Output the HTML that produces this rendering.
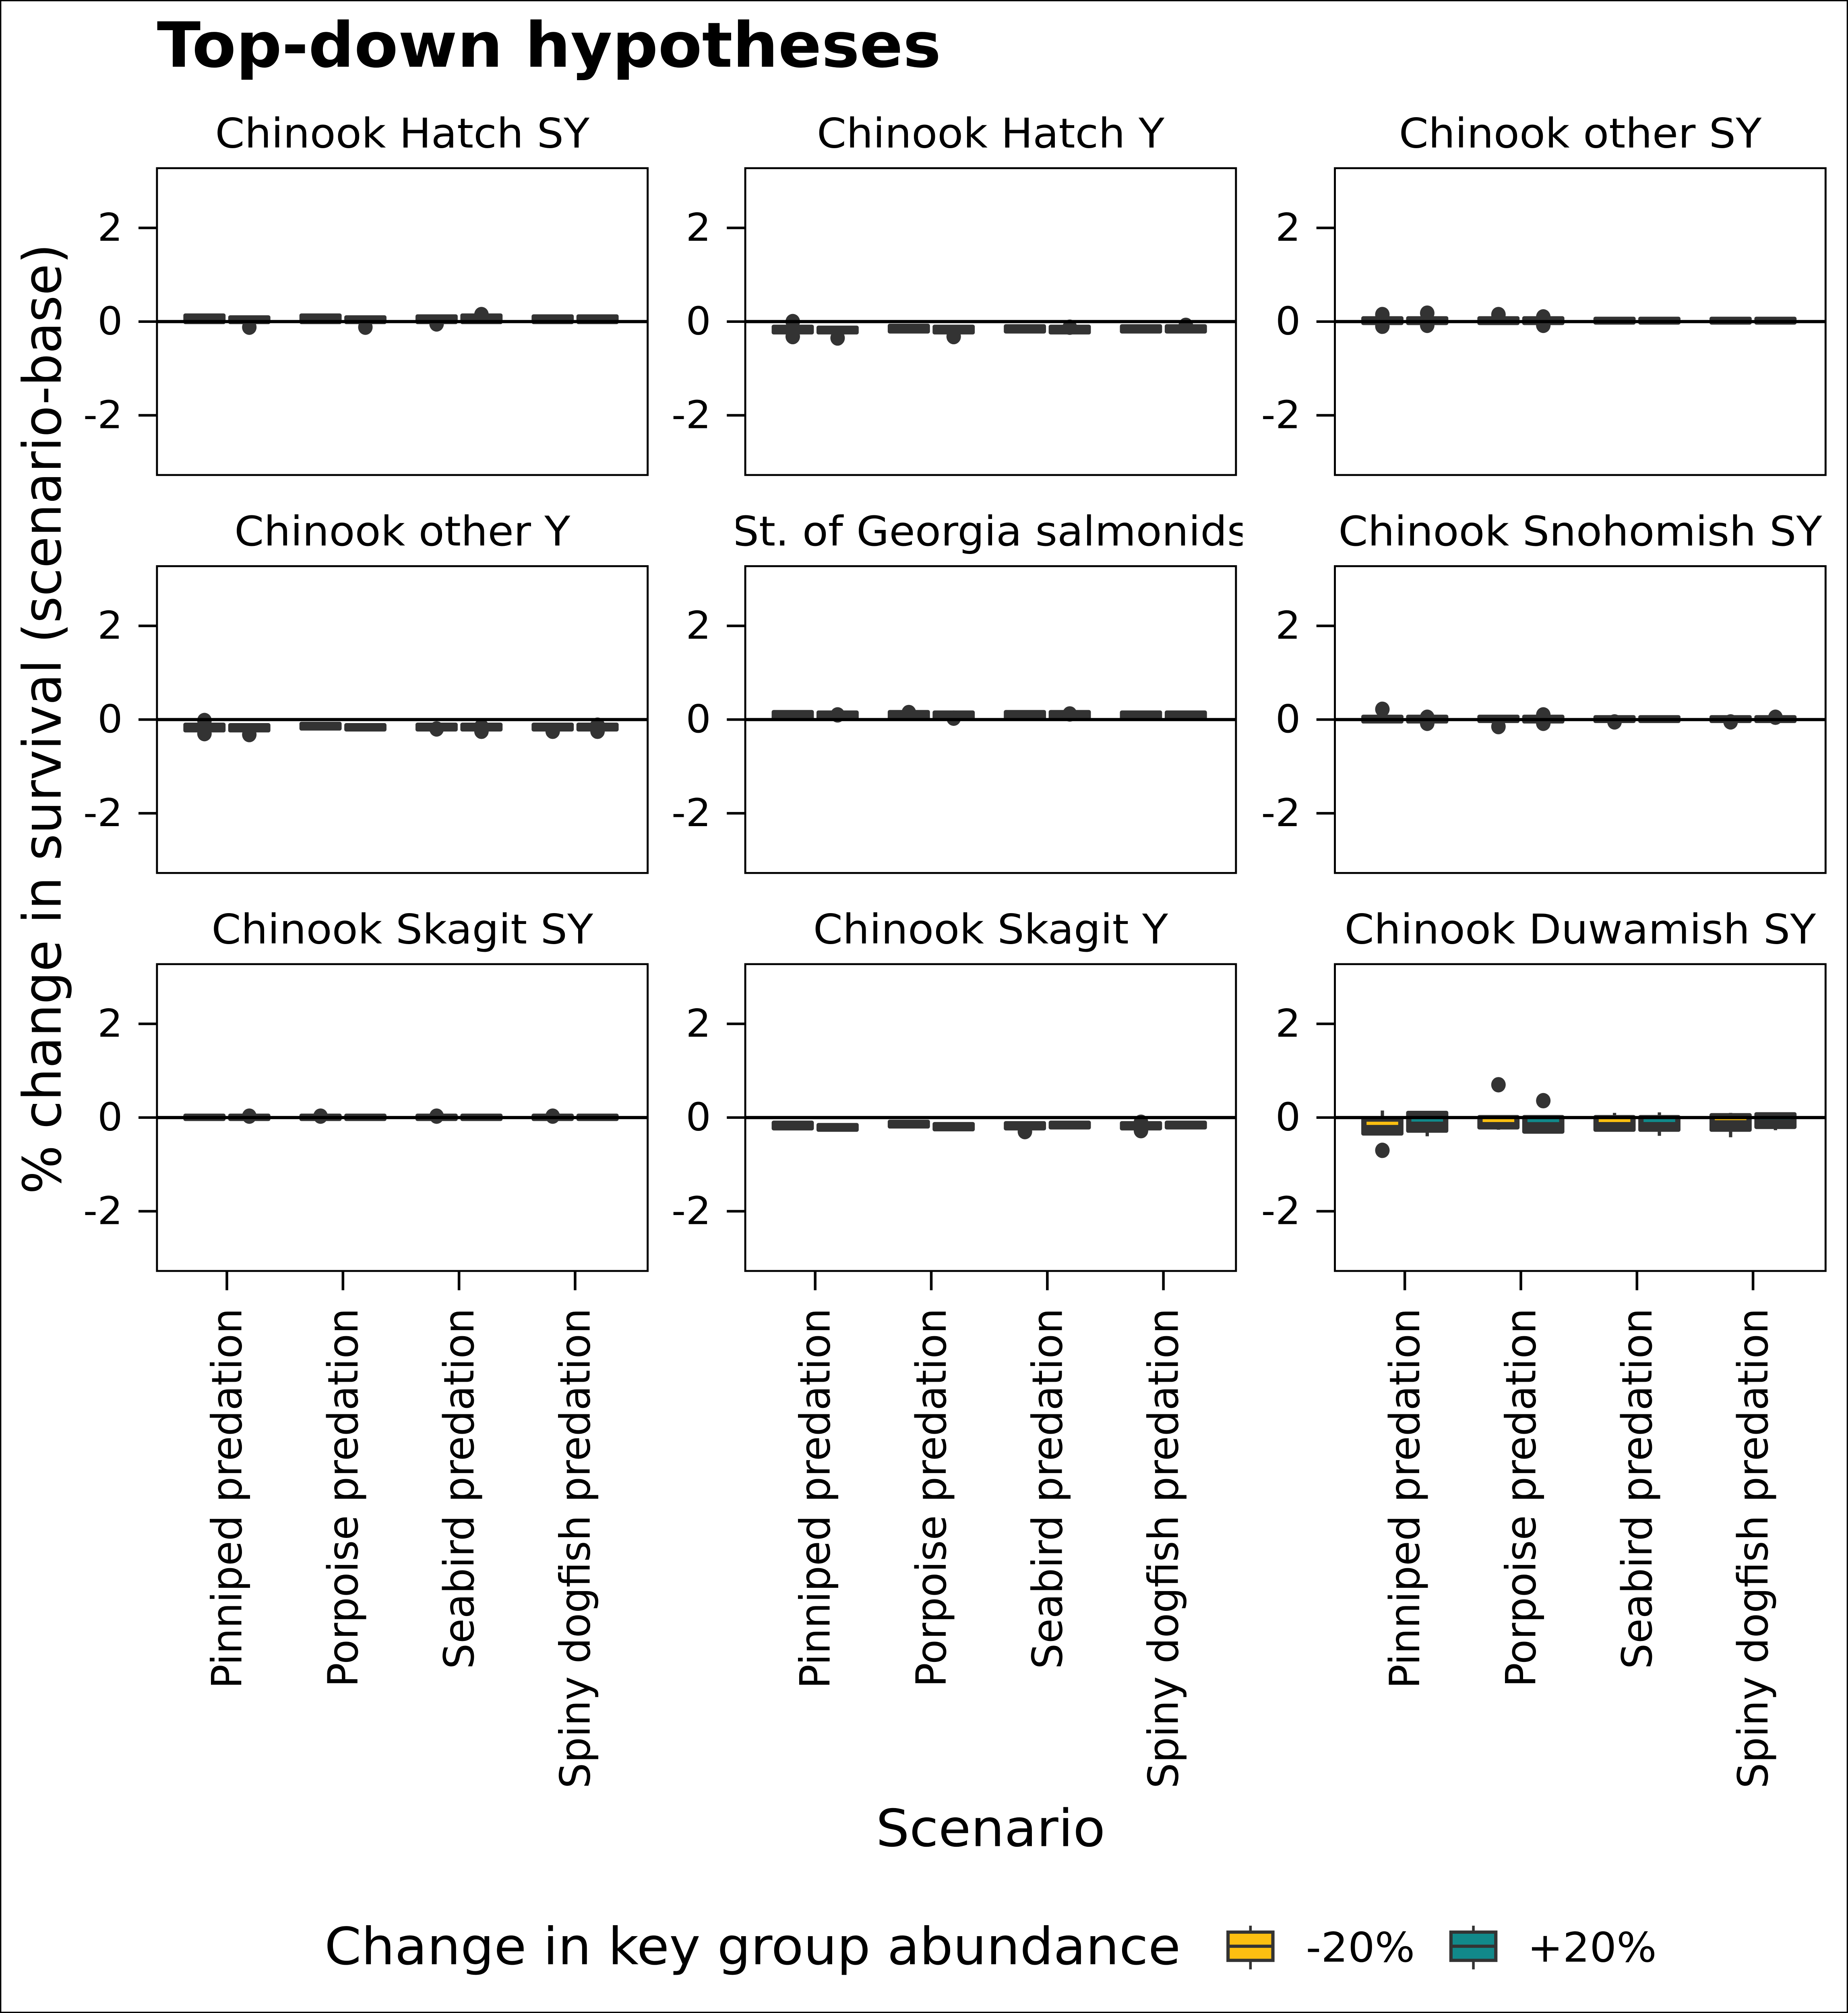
<!DOCTYPE html>
<html><head><meta charset="utf-8"><style>
html,body{margin:0;padding:0;background:#fff;overflow:hidden;width:100vw;height:100vh}
svg{display:block;width:100vw;height:100vh}
text{font-family:"DejaVu Sans","Liberation Sans",sans-serif;fill:#000}
</style></head><body>
<svg id="chart" xmlns="http://www.w3.org/2000/svg" viewBox="0 0 1401 1568" preserveAspectRatio="none">
<rect x="0.5" y="0.5" width="1400" height="1567" fill="#fff" stroke="#000" stroke-width="1"/>
<text x="119" y="52" font-size="48.5" font-weight="bold">Top-down hypotheses</text>
<text transform="translate(46,560) rotate(-90)" text-anchor="middle" font-size="40">% change in survival (scenario-base)</text>
<text x="751" y="1438" text-anchor="middle" font-size="40">Scenario</text>
<g id="panels"></g>
<g>
<text x="246" y="1530" font-size="40">Change in key group abundance</text>
<g>
<line x1="948" y1="1500" x2="948" y2="1534" stroke="#333" stroke-width="2"/>
<rect x="931" y="1505" width="34" height="22" fill="#fcbf11" stroke="#333" stroke-width="2.5"/>
<line x1="931" y1="1516" x2="965" y2="1516" stroke="#333" stroke-width="2.5"/>
<text x="990" y="1528" font-size="32">-20%</text></g>
<g>
<line x1="1117" y1="1500" x2="1117" y2="1534" stroke="#333" stroke-width="2"/>
<rect x="1100" y="1505" width="34" height="22" fill="#11898a" stroke="#333" stroke-width="2.5"/>
<line x1="1100" y1="1516" x2="1134" y2="1516" stroke="#333" stroke-width="2.5"/>
<text x="1158" y="1528" font-size="32">+20%</text></g>
</g>
</svg>
<script>
const titles = ["Chinook Hatch SY","Chinook Hatch Y","Chinook other SY","Chinook other Y","St. of Georgia salmonids","Chinook Snohomish SY","Chinook Skagit SY","Chinook Skagit Y","Chinook Duwamish SY"];
const scenarios = ["Pinniped predation","Porpoise predation","Seabird predation","Spiny dogfish predation"];
const yTicks = [-2,0,2];
const q1 = [
 [0,0,0,0,0,0,0,0],
 [-0.22,-0.22,-0.2,-0.22,-0.2,-0.22,-0.2,-0.2],
 [-0.02,-0.02,-0.02,-0.02,-0.01,-0.01,-0.01,-0.01],
 [-0.22,-0.22,-0.18,-0.2,-0.2,-0.2,-0.2,-0.2],
 [0.05,0.05,0.05,0.05,0.05,0.05,0.05,0.05],
 [-0.03,-0.03,-0.02,-0.03,-0.02,-0.02,-0.02,-0.02],
 [-0.02,-0.02,-0.02,-0.02,-0.02,-0.02,-0.02,-0.02],
 [-0.22,-0.25,-0.18,-0.24,-0.22,-0.2,-0.22,-0.2],
 [-0.33,-0.27,-0.2,-0.29,-0.25,-0.25,-0.25,-0.19]];
const med = [
 [0.06,0.04,0.06,0.04,0.05,0.06,0.05,0.05],
 [-0.17,-0.18,-0.15,-0.17,-0.15,-0.16,-0.15,-0.15],
 [0.02,0.02,0.02,0.02,0.02,0.02,0.02,0.02],
 [-0.17,-0.17,-0.14,-0.17,-0.16,-0.16,-0.16,-0.16],
 [0.1,0.1,0.1,0.1,0.1,0.1,0.1,0.1],
 [0.01,0.01,0.01,0.01,0.01,0.01,0.01,0.01],
 [0,0,0,0,0,0,0,0],
 [-0.17,-0.2,-0.14,-0.19,-0.17,-0.16,-0.17,-0.16],
 [-0.13,-0.06,-0.02,-0.07,-0.02,-0.02,0,-0.01]];
const q3 = [
 [0.12,0.08,0.12,0.08,0.1,0.12,0.1,0.1],
 [-0.12,-0.14,-0.1,-0.12,-0.11,-0.12,-0.11,-0.11],
 [0.06,0.06,0.06,0.06,0.05,0.05,0.05,0.05],
 [-0.12,-0.13,-0.1,-0.13,-0.12,-0.12,-0.12,-0.12],
 [0.15,0.14,0.15,0.14,0.15,0.15,0.14,0.14],
 [0.05,0.05,0.05,0.05,0.04,0.04,0.04,0.04],
 [0.03,0.03,0.03,0.03,0.03,0.03,0.03,0.03],
 [-0.12,-0.17,-0.1,-0.15,-0.13,-0.12,-0.13,-0.12],
 [-0.04,0.09,0,0,0,0,0.04,0.06]];
const wlo = [
 [0,0,0,0,0,0,0,0],
 [-0.22,-0.22,-0.2,-0.22,-0.2,-0.22,-0.2,-0.2],
 [-0.02,-0.02,-0.02,-0.02,-0.01,-0.01,-0.01,-0.01],
 [-0.22,-0.22,-0.18,-0.2,-0.2,-0.2,-0.2,-0.2],
 [0.05,0.05,0.05,0.05,0.05,0.05,0.05,0.05],
 [-0.03,-0.03,-0.02,-0.03,-0.02,-0.02,-0.02,-0.02],
 [-0.02,-0.02,-0.02,-0.02,-0.02,-0.02,-0.02,-0.02],
 [-0.22,-0.25,-0.18,-0.24,-0.22,-0.2,-0.22,-0.2],
 [-0.36,-0.4,-0.26,-0.32,-0.25,-0.39,-0.42,-0.27]];
const whi = [
 [0.12,0.08,0.12,0.08,0.1,0.12,0.1,0.1],
 [-0.12,-0.14,-0.1,-0.12,-0.11,-0.12,-0.11,-0.11],
 [0.06,0.06,0.06,0.06,0.05,0.05,0.05,0.05],
 [-0.12,-0.13,-0.1,-0.13,-0.12,-0.12,-0.12,-0.12],
 [0.15,0.14,0.15,0.14,0.15,0.15,0.14,0.14],
 [0.05,0.05,0.05,0.05,0.04,0.04,0.04,0.04],
 [0.03,0.03,0.03,0.03,0.03,0.03,0.03,0.03],
 [-0.12,-0.17,-0.1,-0.15,-0.13,-0.12,-0.13,-0.12],
 [0.15,0.11,0.02,0.02,0.1,0.11,0.1,0.09]];
const outliers = [
 [[],[-0.12],[],[-0.12],[-0.05],[0.15],[],[]],
 [[0,-0.32],[-0.35],[],[-0.32],[],[-0.12],[],[-0.08]],
 [[0.15,-0.1],[0.18,-0.08],[0.15],[0.1,-0.08],[],[],[],[]],
 [[-0.02,-0.3],[-0.32],[],[],[-0.2],[-0.15,-0.25],[-0.25],[-0.12,-0.25]],
 [[],[0.1],[0.15],[0.03],[],[0.12],[],[]],
 [[0.22],[0.05,-0.08],[-0.15],[0.1,-0.08],[-0.05],[],[-0.05],[0.05]],
 [[],[0.03],[0.03],[],[0.03],[],[0.03],[]],
 [[],[],[],[],[-0.3],[],[-0.1,-0.28],[]],
 [[-0.7],[],[0.7],[0.36],[],[],[],[]]];
const hueColors = ["#fcbf11","#11898a"];

const NS = "http://www.w3.org/2000/svg";
const root = document.getElementById('panels');
const colX = [119,565,1012], rowY = [131,441,751], PW = 372, PH = 239;
function mk(tag, attrs, parent){const e=document.createElementNS(NS,tag);for(const k in attrs)e.setAttribute(k,attrs[k]);parent.appendChild(e);return e;}
for(let p=0;p<9;p++){
  const r=Math.floor(p/3), c=p%3, x0=colX[c], y0=rowY[r];
  const yScale = v => y0 + PH/2 - v*36.5;
  const xScale = (s,h) => x0 + 53 + s*88 + (h===0?-17:17);
  const g = mk('g',{},root);
  
  
  const t = mk('text',{x:x0+PW/2,y:y0-16,'text-anchor':'middle','font-size':32},g);
  t.textContent = titles[p];
  
  
  if(p===4){
    const clip = mk('clipPath',{id:'cl'+p},g); mk('rect',{x:x0-7,y:y0-50,width:PW+12,height:45},clip);
    t.setAttribute('clip-path','url(#cl'+p+')');
  }
  yTicks.forEach(v=>{
    const yy=yScale(v);
    const tk=mk('line',{x1:x0-14,x2:x0,y1:yy,y2:yy,stroke:'#000','stroke-width':2},g);
    
    
    const tl=mk('text',{x:x0-26,y:yy+10,'text-anchor':'end','font-size':30},g);
    tl.textContent = v;
    
    
  });
  for(let i=0;i<8;i++){
    const s=Math.floor(i/2), h=i%2, cx=xScale(s,h), w=32;
    const b = mk('g',{},g);
    
    
    mk('line',{x1:cx,x2:cx,y1:yScale(whi[p][i]),y2:yScale(wlo[p][i]),stroke:'#333','stroke-width':2.5},b);
    const top=yScale(q3[p][i]), bot=yScale(q1[p][i]);
    mk('rect',{x:cx-w/2,y:top-2,width:w,height:Math.max(bot-top,0)+4,fill:'#333',rx:1.5},b);
    if(bot-top>6){
      const mg=4, my=yScale(med[p][i]);
      mk('rect',{x:cx-w/2+mg,y:Math.max(top+1,Math.min(bot-3,my-1.5)),width:w-2*mg,height:2.5,fill:hueColors[h]},b);
    }
    outliers[p][i].forEach(v=>{
      const o=mk('ellipse',{cx:cx,cy:yScale(v),rx:5.5,ry:6,fill:'#333'},b);
      
      
    });
  }
  const zl=mk('line',{x1:x0,x2:x0+PW,y1:yScale(0),y2:yScale(0),stroke:'#000','stroke-width':2.5},g);
  
  
  const fr=mk('rect',{x:x0,y:y0,width:PW,height:PH,fill:'none',stroke:'#000','stroke-width':1.5},g);
  
  
  if(r===2){
    scenarios.forEach((name,s)=>{
      const sx=x0+53+s*88;
      const xt=mk('line',{x1:sx,x2:sx,y1:y0+PH,y2:y0+PH+15,stroke:'#000','stroke-width':2},g);
      
      
      const xl=mk('text',{transform:'translate('+(sx+11)+','+(y0+PH+29)+') rotate(-90)','text-anchor':'end','font-size':31.5},g);
      xl.textContent=name;
      
      
    });
  }
}
</script>
</body></html>
